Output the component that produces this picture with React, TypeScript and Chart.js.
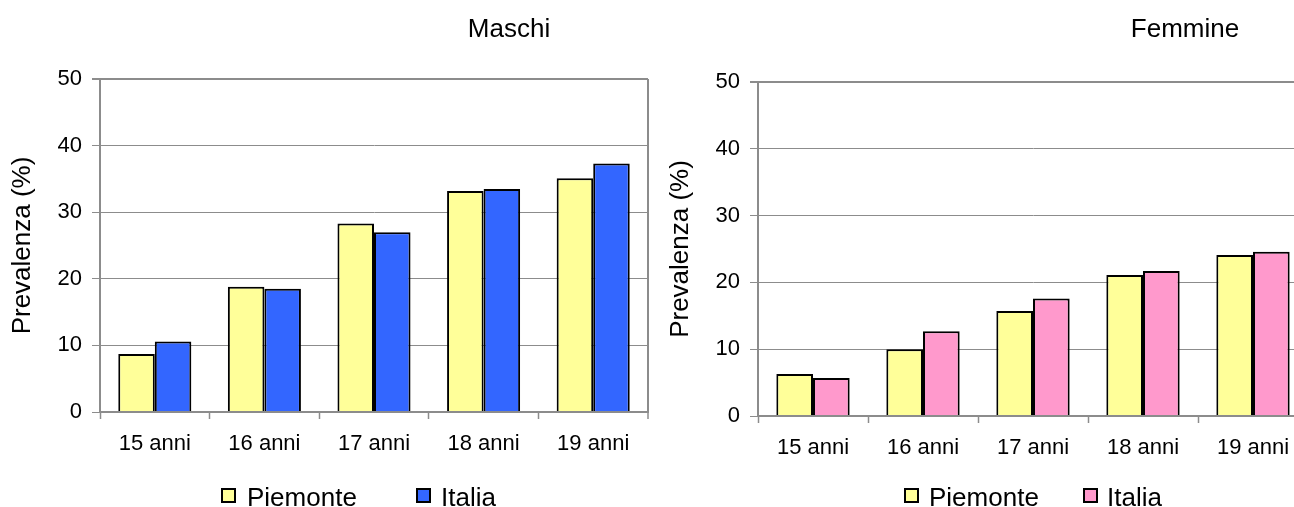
import React, { useEffect, useRef } from "react";
import { Chart, registerables } from "chart.js";

Chart.register(...registerables);

const categories = ["15 anni", "16 anni", "17 anni", "18 anni", "19 anni"];
const seriesNames = ["Piemonte", "Italia"];
const maschiPiemonte = [8.7, 18.8, 28.3, 33.2, 35.1];
const maschiItalia = [10.6, 18.5, 27.0, 33.5, 37.3];
const femminePiemonte = [6.3, 10.0, 15.7, 21.1, 24.1];
const femmineItalia = [5.7, 12.7, 17.6, 21.7, 24.6];
const yTicks = [0, 10, 20, 30, 40, 50];
const yTitle = "Prevalenza (%)";

const FONT = "'Liberation Sans', Arial, Helvetica, sans-serif";
const YELLOW = "#FFFF99";
const BLUE = "#3366FF";
const PINK = "#FF99CC";
const AXIS = "#8c8c8c";
const H = 507;

type PanelProps = {
  left: number;
  width: number;
  plotLeft: number;
  plotRight: number;
  plotTop: number;
  plotBottom: number;
  piemonte: number[];
  italia: number[];
  italiaColor: string;
};

function Panel(p: PanelProps) {
  const ref = useRef<HTMLCanvasElement>(null);
  useEffect(() => {
    const canvas = ref.current;
    if (!canvas) return;
    const yMax = yTicks[yTicks.length - 1];
    const chart = new Chart(canvas, {
      type: "bar",
      data: {
        labels: categories,
        datasets: [
          {
            label: seriesNames[0],
            data: p.piemonte,
            backgroundColor: YELLOW,
            borderColor: "#000000",
            borderWidth: 2,
            categoryPercentage: 2 / 3,
            barPercentage: 1,
          },
          {
            label: seriesNames[1],
            data: p.italia,
            backgroundColor: p.italiaColor,
            borderColor: "#000000",
            borderWidth: 2,
            categoryPercentage: 2 / 3,
            barPercentage: 1,
          },
        ],
      },
      options: {
        responsive: false,
        animation: false,
        layout: {
          padding: { top: p.plotTop, right: p.width - p.plotRight, bottom: 0, left: 0 },
        },
        plugins: {
          legend: { display: false },
          title: { display: false },
          tooltip: { enabled: false },
        },
        scales: {
          x: {
            grid: {
              offset: true,
              drawOnChartArea: true,
              color: (ctx: any) => (ctx.type === "scale" ? AXIS : "rgba(0,0,0,0)"),
              lineWidth: (ctx: any) => (ctx.type === "scale" ? 2 : 1),
              tickColor: AXIS,
              tickWidth: 1.5,
              tickLength: 7,
            },
            border: { color: AXIS, width: 2, z: 1 },
            ticks: {
              color: "#000000",
              font: { family: FONT, size: 22 },
              padding: 12,
              maxRotation: 0,
              autoSkip: false,
            },
            afterFit: (s: any) => {
              s.height = H - p.plotBottom;
            },
          },
          y: {
            min: yTicks[0],
            max: yMax,
            ticks: {
              stepSize: yTicks[1] - yTicks[0],
              color: "#000000",
              font: { family: FONT, size: 22 },
              padding: 10,
            },
            grid: {
              color: (ctx: any) =>
                ctx.tick && ctx.tick.value === yTicks[0] ? "rgba(0,0,0,0)" : AXIS,
              lineWidth: (ctx: any) => (ctx.tick && ctx.tick.value === yMax ? 2 : 1),
              tickColor: AXIS,
              tickLength: 8,
            },
            border: { color: AXIS, width: 2 },
            title: {
              display: true,
              text: yTitle,
              color: "#000000",
              font: { family: FONT, size: 26, weight: "normal" },
              padding: { top: 7, bottom: 0 },
            },
            afterFit: (s: any) => {
              s.width = p.plotLeft;
            },
          },
        },
      },
    } as any);
    return () => chart.destroy();
  }, []);
  return (
    <canvas
      ref={ref}
      width={p.width}
      height={H}
      style={{ position: "absolute", left: p.left, top: 0, width: p.width, height: H }}
    />
  );
}

const textStyle: React.CSSProperties = {
  position: "absolute",
  fontFamily: FONT,
  fontSize: 26,
  lineHeight: "26px",
  color: "#000",
  whiteSpace: "nowrap",
};

function Title({ text, center }: { text: string; center: number }) {
  return <div style={{ ...textStyle, left: center, top: 15, transform: "translateX(-50%)" }}>{text}</div>;
}

function LegendItem({ color, label, boxLeft, textLeft }: { color: string; label: string; boxLeft: number; textLeft: number }) {
  return (
    <>
      <div
        style={{
          position: "absolute",
          left: boxLeft,
          top: 488,
          width: 15,
          height: 15,
          boxSizing: "border-box",
          border: "2px solid #000",
          background: color,
        }}
      />
      <div style={{ ...textStyle, left: textLeft, top: 484 }}>{label}</div>
    </>
  );
}

export default function App() {
  return (
    <div
      style={{
        position: "fixed",
        left: 0,
        top: 0,
        width: 1294,
        height: H,
        overflow: "hidden",
        background: "#ffffff",
      }}
    >
      <Panel
        left={0}
        width={660}
        plotLeft={100}
        plotRight={648}
        plotTop={79}
        plotBottom={412}
        piemonte={maschiPiemonte}
        italia={maschiItalia}
        italiaColor={BLUE}
      />
      <Panel
        left={658}
        width={660}
        plotLeft={100}
        plotRight={650}
        plotTop={82}
        plotBottom={416}
        piemonte={femminePiemonte}
        italia={femmineItalia}
        italiaColor={PINK}
      />
      <Title text="Maschi" center={509} />
      <Title text="Femmine" center={1185} />
      <LegendItem color={YELLOW} label={seriesNames[0]} boxLeft={221} textLeft={247} />
      <LegendItem color={BLUE} label={seriesNames[1]} boxLeft={416} textLeft={441} />
      <LegendItem color={YELLOW} label={seriesNames[0]} boxLeft={904} textLeft={929} />
      <LegendItem color={PINK} label={seriesNames[1]} boxLeft={1083} textLeft={1107} />
    </div>
  );
}
